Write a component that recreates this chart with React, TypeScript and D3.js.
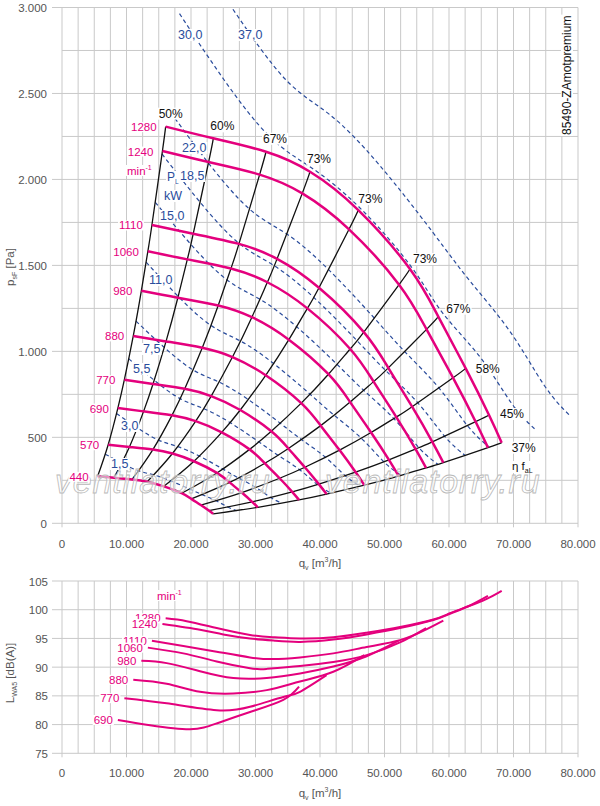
import React, { useEffect, useRef } from 'react';
import * as d3 from 'd3';

type Pt = [number, number];

// Drehzahlen [min-1]
const speeds = [1280, 1240, 1110, 1060, 980, 880, 770, 690, 570, 440];

// Kennlinien psF [Pa] über qv [m3/h], ein Punkt je Wirkungsgradlinie
const n1280: Pt[] = [[16070, 2307], [23460, 2239], [31630, 2161], [38450, 2045], [45940, 1822], [53950, 1479], [58340, 1202], [62590, 901], [66200, 630], [68170, 469]];
const n1240: Pt[] = [[15570, 2165], [22730, 2101], [30640, 2028], [37250, 1919], [44500, 1710], [52260, 1388], [56520, 1128], [60630, 846], [64130, 591], [66040, 440]];
const n1110: Pt[] = [[13940, 1735], [20340, 1684], [27430, 1625], [33340, 1538], [39840, 1370], [46790, 1112], [50590, 904], [54280, 678], [57410, 474], [59120, 353]];
const n1060: Pt[] = [[13310, 1582], [19430, 1535], [26190, 1482], [31840, 1402], [38040, 1250], [44680, 1014], [48310, 824], [51830, 618], [54820, 432], [56450, 322]];
const n980: Pt[] = [[12300, 1352], [17960, 1312], [24220, 1267], [29440, 1199], [35170, 1068], [41310, 867], [44670, 705], [47920, 528], [50690, 369], [52190, 275]];
const n880: Pt[] = [[11050, 1090], [16130, 1058], [21750, 1021], [26430, 967], [31580, 861], [37090, 699], [40110, 568], [43030, 426], [45510, 298], [46870, 222]];
const n770: Pt[] = [[9670, 835], [14110, 810], [19030, 782], [23130, 740], [27640, 659], [32450, 535], [35100, 435], [37650, 326], [39820, 228], [41010, 170]];
const n690: Pt[] = [[8660, 670], [12650, 651], [17050, 628], [20730, 594], [24760, 529], [29080, 430], [31450, 349], [33740, 262], [35690, 183], [36750, 136]];
const n570: Pt[] = [[7160, 457], [10450, 444], [14090, 429], [17120, 406], [20460, 361], [24020, 293], [25980, 238], [27870, 179], [29480, 125], [30360, 93]];
const n440: Pt[] = [[5520, 273], [8060, 265], [10870, 255], [13220, 242], [15790, 215], [18550, 175], [20050, 142], [21520, 106], [22760, 74], [23430, 55]];
const pressureCurves = [n1280, n1240, n1110, n1060, n980, n880, n770, n690, n570, n440];

const effLabels = ['50%', '60%', '67%', '73%', '73%', '73%', '67%', '58%', '45%', '37%'];

// Leistungslinien PL [kW]
const powerLabels = ['1,5', '3,0', '5,5', '7,5', '11,0', '15,0', '18,5', '22,0', '30,0', '37,0'];
const pw1_5: Pt[] = [[6710, 402], [9270, 350], [11880, 305], [14250, 281], [16890, 246], [19740, 200], [21710, 167], [23880, 131], [25680, 95], [27050, 74]];
const pw3_0: Pt[] = [[8450, 639], [11680, 555], [14970, 484], [17950, 446], [21280, 391], [24880, 317], [27350, 264], [30090, 208], [32350, 150], [34080, 117]];
const pw5_5: Pt[] = [[10350, 957], [14300, 832], [18320, 725], [21970, 667], [26040, 586], [30450, 475], [33480, 396], [36830, 312], [39600, 225], [41720, 176]];
const pw7_5: Pt[] = [[11470, 1176], [15850, 1023], [20320, 892], [24360, 821], [28880, 720], [33760, 584], [37130, 487], [40840, 384], [43910, 277], [46260, 216]];
const pw11_0: Pt[] = [[13040, 1519], [18010, 1320], [23080, 1151], [27680, 1060], [32810, 929], [38360, 754], [42180, 629], [46400, 495], [49890, 358], [52560, 279]];
const pw15_0: Pt[] = [[14460, 1867], [19970, 1623], [25600, 1415], [30690, 1303], [36380, 1143], [42540, 928], [46780, 773], [51450, 609], [55320, 440], [58280, 343]];
const pw18_5: Pt[] = [[15500, 2148], [21420, 1867], [27450, 1628], [32910, 1498], [39020, 1314], [45620, 1067], [50170, 889], [55180, 700], [59330, 506], [62510, 394]];
const pw22_0: Pt[] = [[17520, 2355], [22690, 2096], [29080, 1827], [34870, 1682], [41340, 1475], [48330, 1197], [53150, 998], [58460, 786], [62860, 568], [66220, 443]];
const pw30_0: Pt[] = [[18220, 2964], [25170, 2577], [32250, 2247], [38670, 2068], [46120, 1837], [54150, 1492], [58940, 1227], [64830, 966], [69700, 698], [73430, 544]];
const pw37_0: Pt[] = [[26500, 2990], [34590, 2584], [41470, 2378], [49160, 2086], [57470, 1693], [63200, 1411], [69520, 1112], [74750, 803], [78750, 626]];
const powerLines = [pw1_5, pw3_0, pw5_5, pw7_5, pw11_0, pw15_0, pw18_5, pw22_0, pw30_0, pw37_0];

// Schallleistung LWA5 [dB(A)] über qv
const soundSpeeds = [1280, 1240, 1110, 1060, 980, 880, 770, 690];
const s1280: Pt[] = [[16070, 98.5], [19330, 98.0], [23980, 96.8], [29150, 95.6], [33000, 95.2], [36900, 95.0], [42060, 95.2], [47230, 96.0], [52400, 97.0], [57570, 98.3], [60160, 99.4], [63000, 100.6], [65850, 101.9], [68170, 103.3]];
const s1240: Pt[] = [[15570, 97.5], [21400, 96.5], [25000, 95.7], [29150, 95.0], [33000, 94.6], [36900, 94.4], [42060, 94.8], [47230, 95.7], [52400, 96.8], [57570, 98.2], [60160, 99.3], [63000, 100.6], [66040, 102.4]];
const s1110: Pt[] = [[13940, 94.6], [18810, 93.7], [23980, 92.7], [29150, 91.7], [32760, 91.4], [36900, 91.7], [42060, 92.4], [47230, 93.5], [52400, 94.7], [56000, 96.3], [59120, 98.1]];
const s1060: Pt[] = [[13310, 93.4], [18810, 92.4], [23980, 91.0], [29150, 89.8], [31740, 89.7], [36900, 90.2], [42060, 90.9], [47230, 92.1], [52400, 94.3], [56450, 96.8]];
const s980: Pt[] = [[12300, 91.1], [16230, 90.7], [21400, 89.3], [26560, 88.1], [31740, 88.1], [36900, 88.9], [42060, 90.1], [47230, 91.9], [52190, 94.6]];
const s880: Pt[] = [[11050, 87.8], [16230, 87.1], [21400, 85.7], [26560, 85.4], [31740, 86.0], [36900, 87.5], [42060, 89.2], [46870, 92.1]];
const s770: Pt[] = [[9670, 84.6], [16230, 83.7], [23980, 82.5], [29150, 83.1], [34310, 84.8], [36900, 85.7], [41010, 88.6]];
const s690: Pt[] = [[8660, 80.8], [13640, 79.9], [19850, 79.2], [23980, 80.2], [29150, 82.2], [34310, 84.3], [36750, 86.6]];
const soundCurves = [s1280, s1240, s1110, s1060, s980, s880, s770, s690];

const flowTicks = [0, 10000, 20000, 30000, 40000, 50000, 60000, 70000, 80000];
const pressureTicks = [0, 500, 1000, 1500, 2000, 2500, 3000];
const soundTicks = [75, 80, 85, 90, 95, 100, 105];

// Layout
const X0 = 62;
const X1 = 578;
const MAGENTA = '#e4007d';
const BLUE = '#2a4c9c';
const GRID = '#c9c9c9';
const GREY_TEXT = '#555';
const FONT = '"Liberation Sans", Arial, Helvetica, sans-serif';
const effLabelOffset: Pt[] = [[-7, -9], [-3, -8], [-3, -9], [-3, -9], [0, -7], [3, -6], [8, -4], [10, 5], [11, 3], [10, 9]];
const powerLabelPos: Pt[] = [[111, 468], [121, 430], [133, 373], [143, 353], [149, 284], [160, 220], [180, 180], [182, 152], [178, 39], [238, 39]];

const fmt = d3.formatLocale({ decimal: ',', thousands: '.', grouping: [3], currency: ['', ''] }).format(',d');

const App: React.FC = () => {
  const svgRef = useRef<SVGSVGElement | null>(null);

  useEffect(() => {
    if (!svgRef.current) return;
    const svg = d3.select(svgRef.current);
    svg.selectAll('*').remove();

    const x = d3.scaleLinear().domain([0, 80000]).range([X0, X1]);
    const yP = d3.scaleLinear().domain([0, 3000]).range([523.3, 7.5]);
    const yL = d3.scaleLinear().domain([75, 105]).range([753.3, 581]);

    // weisser Kasten hinter Beschriftungen
    const box = (t: any) => {
      const node = t.node() as SVGTextElement;
      const b = node.getBBox();
      d3.select(node.parentNode as Element)
        .insert('rect', () => node)
        .attr('x', b.x - 1)
        .attr('y', b.y + 1)
        .attr('width', b.width + 2)
        .attr('height', Math.max(0, b.height - 2))
        .attr('fill', '#fff')
        .attr('transform', t.attr('transform'));
    };

    const drawGrid = (yScale: any, yMin: number, yMax: number, step: number, tickEvery: number) => {
      const g = svg.append('g').attr('stroke', GRID).attr('stroke-width', 1).attr('fill', 'none');
      const [yb, yt] = yScale.range();
      g.selectAll(null).data(d3.range(0, 80001, 2500)).enter().append('line')
        .attr('x1', (d: number) => x(d)).attr('x2', (d: number) => x(d))
        .attr('y1', yt).attr('y2', (d: number) => (d % 10000 === 0 ? yb + 4 : yb));
      g.selectAll(null).data(d3.range(yMin, yMax + 0.001, step)).enter().append('line')
        .attr('x1', (d: number) => ((d - yMin) % tickEvery === 0 ? X0 - 10 : X0)).attr('x2', X1)
        .attr('y1', (d: number) => yScale(d)).attr('y2', (d: number) => yScale(d));
    };

    const tickText = (g: any, data: number[], xf: (d: number) => number, yf: (d: number) => number, anchor: string, fmtF: (d: number) => string) => {
      g.selectAll(null).data(data).enter().append('text')
        .attr('x', xf).attr('y', yf).attr('text-anchor', anchor)
        .attr('fill', GREY_TEXT).attr('font-size', 11.5).text(fmtF);
    };

    // ---------- oberes Diagramm ----------
    drawGrid(yP, 0, 3000, 250, 500);
    const gT = svg.append('g');
    tickText(gT, pressureTicks, () => 47, d => yP(d) + 4.5, 'end', d => fmt(d));
    tickText(gT, flowTicks, d => x(d), () => 548, 'middle', d => fmt(d));

    svg.append('clipPath').attr('id', 'plotclip').append('rect')
      .attr('x', X0).attr('y', yP(3000)).attr('width', X1 - X0).attr('height', yP(0) - yP(3000));

    const lineP = d3.line<Pt>().x(d => x(d[0])).y(d => yP(d[1])).curve(d3.curveNatural);

    svg.append('g').attr('clip-path', 'url(#plotclip)')
      .selectAll(null).data(powerLines).enter().append('path')
      .attr('d', (d: Pt[]) => lineP(d))
      .attr('fill', 'none').attr('stroke', BLUE).attr('stroke-width', 1.2).attr('stroke-dasharray', '4,3');

    const gEff = svg.append('g').attr('fill', 'none').attr('stroke', '#111').attr('stroke-width', 1.3);
    effLabels.forEach((_, j) => {
      const pts = pressureCurves.map(c => c[j]).reverse();
      gEff.append('path').attr('d', lineP(pts));
    });

    svg.append('g').selectAll(null).data(pressureCurves).enter().append('path')
      .attr('d', (d: Pt[]) => lineP(d))
      .attr('fill', 'none').attr('stroke', MAGENTA).attr('stroke-width', 2.5);

    // Wasserzeichen
    const gW = svg.append('g').attr('font-size', 34).attr('font-style', 'italic')
      .attr('fill', 'rgba(255,255,255,0.55)').attr('stroke', '#b9b9b9').attr('stroke-width', 0.8)
      .attr('letter-spacing', 0.8);
    [55, 325].forEach(px => gW.append('text').attr('x', px).attr('y', 493).text('ventilatorry.ru'));

    const gLab = svg.append('g');
    // Drehzahlen
    pressureCurves.forEach((c, i) => {
      const t = gLab.append('text').attr('x', x(c[0][0]) - 9).attr('y', yP(c[0][1]) + 4.5)
        .attr('text-anchor', 'end').attr('fill', MAGENTA).attr('font-size', 11.5).text(String(speeds[i]));
      box(t);
    });
    const minTop = gLab.append('text').attr('x', 127).attr('y', 175).attr('fill', MAGENTA).attr('font-size', 11.5);
    minTop.append('tspan').text('min');
    minTop.append('tspan').attr('font-size', 7).attr('dy', -5).text('-1');
    box(minTop);

    // Wirkungsgrade
    effLabels.forEach((lab, j) => {
      const p = n1280[j];
      const t = gLab.append('text').attr('x', x(p[0]) + effLabelOffset[j][0]).attr('y', yP(p[1]) + effLabelOffset[j][1])
        .attr('fill', '#111').attr('font-size', 12).text(lab);
      box(t);
    });
    const eta = gLab.append('text').attr('x', 512).attr('y', 470).attr('fill', '#111').attr('font-size', 11.5);
    eta.append('tspan').text('\u03b7 f');
    eta.append('tspan').attr('font-size', 7).attr('dy', 3).text('aL');
    box(eta);

    // Leistungen
    powerLabels.forEach((lab, i) => {
      const t = gLab.append('text').attr('x', powerLabelPos[i][0]).attr('y', powerLabelPos[i][1])
        .attr('fill', BLUE).attr('font-size', 12.5).text(lab);
      box(t);
    });
    const pl = gLab.append('text').attr('x', 167).attr('y', 181).attr('fill', BLUE).attr('font-size', 12);
    pl.append('tspan').text('P');
    pl.append('tspan').attr('font-size', 6.5).attr('dy', 3).text('L');
    box(pl);
    box(gLab.append('text').attr('x', 164).attr('y', 200).attr('fill', BLUE).attr('font-size', 12.5).text('kW'));

    const model = gLab.append('text').attr('transform', 'translate(571,135) rotate(-90)')
      .attr('fill', '#111').attr('font-size', 12).text('85490-ZAmotpremium');
    box(model);

    // Achsentitel
    const axTitleY = (yc: number, main: string, sub: string, rest: string) => {
      const t = svg.append('text').attr('transform', `translate(14,${yc}) rotate(-90)`)
        .attr('text-anchor', 'middle').attr('fill', GREY_TEXT).attr('font-size', 11.5);
      t.append('tspan').text(main);
      t.append('tspan').attr('font-size', 7).attr('dy', 3).text(sub);
      t.append('tspan').attr('dy', -3).text(rest);
    };
    const axTitleX = (yb: number) => {
      const t = svg.append('text').attr('x', 320).attr('y', yb).attr('text-anchor', 'middle')
        .attr('fill', GREY_TEXT).attr('font-size', 11.5);
      t.append('tspan').text('q');
      t.append('tspan').attr('font-size', 7).attr('dy', 3).text('v');
      t.append('tspan').attr('dy', -3).text(' [m');
      t.append('tspan').attr('font-size', 7).attr('dy', -5).text('3');
      t.append('tspan').attr('dy', 5).text('/h]');
    };
    axTitleY(267, 'p', 'sF', ' [Pa]');
    axTitleX(567);

    // ---------- unteres Diagramm ----------
    drawGrid(yL, 75, 105, 5, 5);
    const gB = svg.append('g');
    tickText(gB, soundTicks, () => 48, d => yL(d) + 4.5, 'end', d => String(d));
    tickText(gB, flowTicks, d => x(d), () => 777, 'middle', d => fmt(d));

    const lineL = d3.line<Pt>().x(d => x(d[0])).y(d => yL(d[1])).curve(d3.curveNatural);
    svg.append('g').selectAll(null).data(soundCurves).enter().append('path')
      .attr('d', (d: Pt[]) => lineL(d))
      .attr('fill', 'none').attr('stroke', MAGENTA).attr('stroke-width', 2);

    const gLabB = svg.append('g');
    soundCurves.forEach((c, i) => {
      const t = gLabB.append('text').attr('x', x(c[0][0]) - 5).attr('y', yL(c[0][1]) + 4)
        .attr('text-anchor', 'end').attr('fill', MAGENTA).attr('font-size', 11.5).text(String(soundSpeeds[i]));
      box(t);
    });
    const minBot = gLabB.append('text').attr('x', 157).attr('y', 600).attr('fill', MAGENTA).attr('font-size', 11.5);
    minBot.append('tspan').text('min');
    minBot.append('tspan').attr('font-size', 7).attr('dy', -5).text('-1');
    box(minBot);

    axTitleY(673, 'L', 'WA5', ' [dB(A)]');
    axTitleX(797);
  }, []);

  return (
    <svg
      ref={svgRef}
      width={600}
      height={806}
      viewBox="0 0 600 806"
      style={{ position: 'absolute', left: 0, top: 0, background: '#fff', fontFamily: FONT }}
    />
  );
};

export default App;
